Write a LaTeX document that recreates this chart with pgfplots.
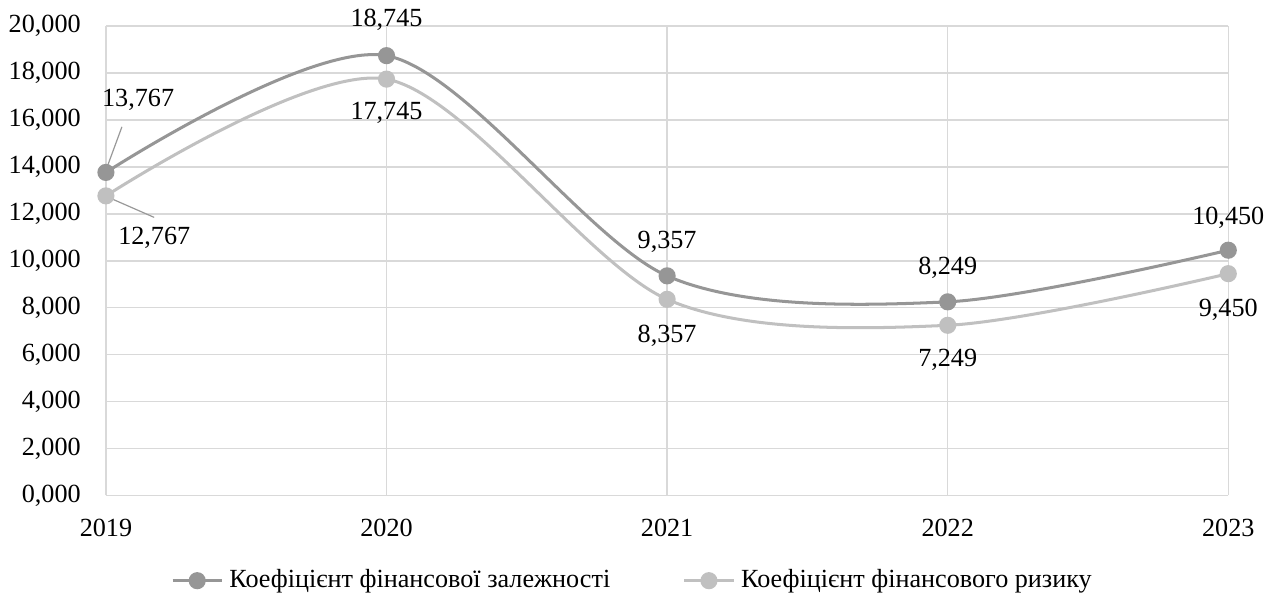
\documentclass[border=0pt]{standalone}
\usepackage{fontspec}
\setmainfont{Liberation Serif}
\usepackage{pgfplots}
\pgfplotsset{compat=1.18}
\usepackage{pgfplotstable}

\definecolor{darkser}{RGB}{150,150,150}
\definecolor{lightser}{RGB}{192,192,192}
\definecolor{gridc}{RGB}{217,217,217}

% year, value, label offset (pt)
\pgfplotstableread{
year  val     dx  dy
2019  13.767  16  36
2020  18.745  0   18
2021  9.357   0   17
2022  8.249   0   17
2023  10.450  0   16
}\dataA
\pgfplotstableread{
year  val     dx  dy
2019  12.767  24  -21
2020  17.745  0   -17
2021  8.357   0   -18
2022  7.249   0   -17
2023  9.450   0   -18
}\dataB

\begin{document}
\fontsize{13}{15}\selectfont
\begin{tikzpicture}
\begin{axis}[
width=557.5pt,
height=233pt,
scale only axis,
xmin=2019, xmax=2023,
ymin=0, ymax=20,
xtick={2019,2020,2021,2022,2023},
xticklabels={2019,2020,2021,2022,2023},
ytick={0,2,...,20},
/pgf/number format/assume math mode=true,
yticklabel style={/pgf/number format/fixed,/pgf/number format/zerofill,
  /pgf/number format/precision=3,/pgf/number format/use comma,
  /pgf/number format/1000 sep={},xshift=-8pt},
xticklabel style={yshift=-7.5pt},
major tick length=0pt,
grid=major,
major grid style={gridc,line width=0.75pt},
axis line style={draw=none},
clip=false,
legend style={at={(0.47,-0.182)},anchor=center,draw=none,fill=none,
  legend columns=2,/tikz/every even column/.append style={column sep=34pt},
  /tikz/every odd column/.append style={column sep=1pt}},
legend image code/.code={
  \draw[#1,line width=1.5pt] (0pt,0pt) -- (24.5pt,0pt);
  \fill[#1] (12.25pt,0pt) circle (3.5pt);
},
nodes near coords={\pgfmathprintnumber[fixed,zerofill,precision=3,use comma]{\pgfplotspointmeta}},
point meta=y,
visualization depends on={\thisrow{dx} \as \ldx},
visualization depends on={\thisrow{dy} \as \ldy},
every node near coord/.append style={anchor=center,xshift=\ldx pt,yshift=\ldy pt,text=black,
  /pgf/number format/assume math mode=true},
]
\draw[gray!80,line width=0.6pt] (axis cs:2019,13.86) -- (axis cs:2019.057,15.71);
\draw[gray!80,line width=0.6pt] (axis cs:2019,12.75) -- (axis cs:2019.172,11.85);
\addplot[smooth,darkser,line width=1.5pt,mark=*,mark size=3.5pt,mark options={fill=darkser,draw=darkser}]
  table[x=year,y=val] {\dataA};
\addlegendentry{Коефіцієнт фінансової залежності}
\addplot[smooth,lightser,line width=1.5pt,mark=*,mark size=3.5pt,mark options={fill=lightser,draw=lightser}]
  table[x=year,y=val] {\dataB};
\addlegendentry{Коефіцієнт фінансового ризику}
\draw[gridc,line width=0.75pt] (axis cs:2019,0) -- (axis cs:2023,0);
\end{axis}
\end{tikzpicture}
\end{document}
